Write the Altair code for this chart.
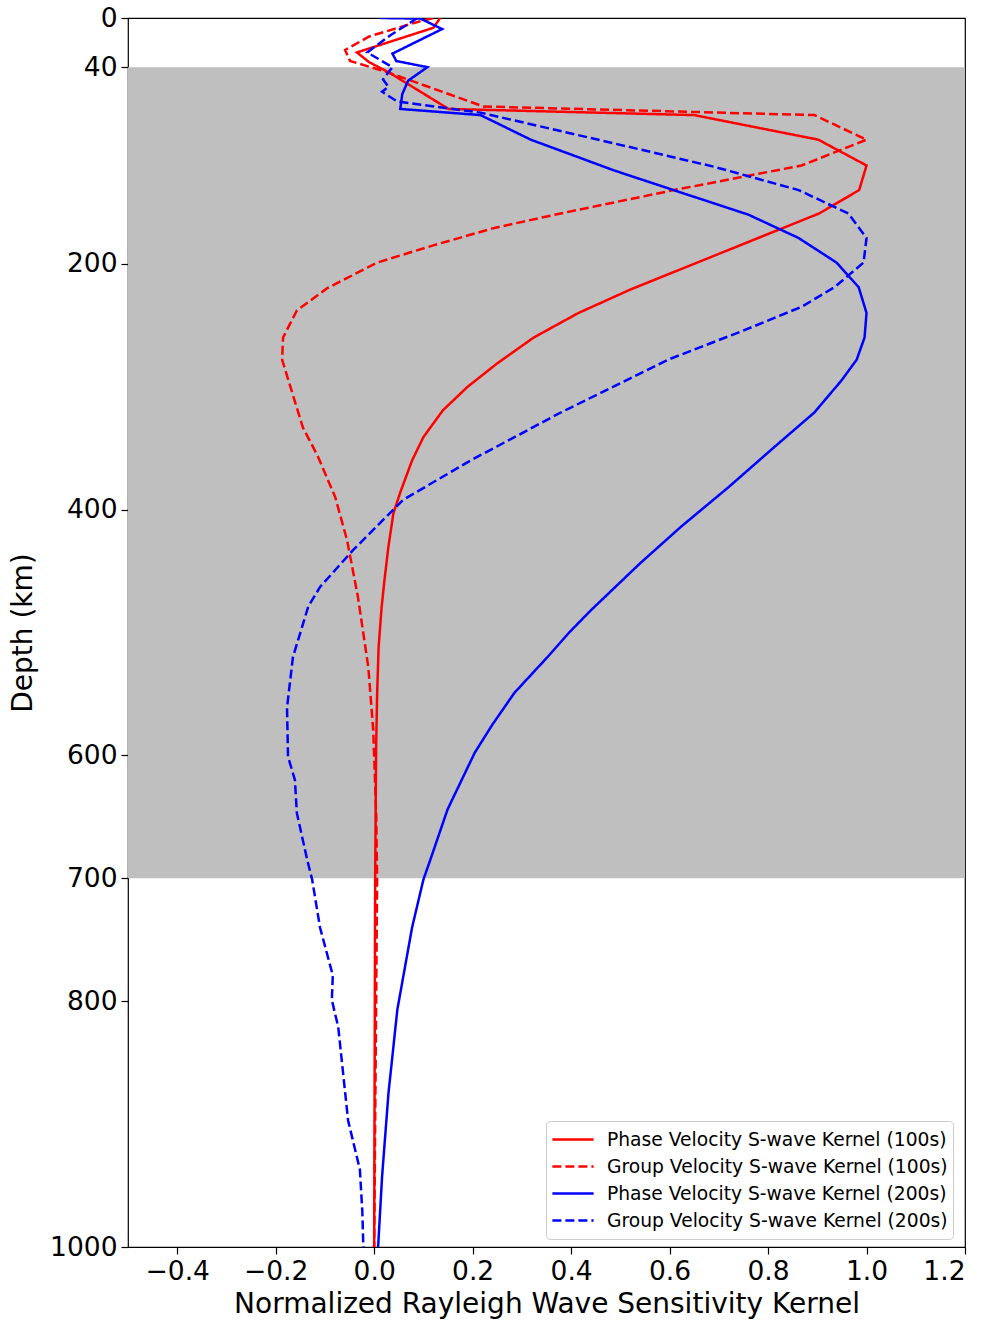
import altair as alt
import pandas as pd

# Depth samples (km) and normalized kernel values for each curve
phase100_depth = [0, 8, 28, 36, 45, 74, 79, 99, 120, 140, 159, 179, 200, 221, 240, 260, 281,
                  300, 319, 341, 360, 386, 403, 430, 457, 480, 512, 550, 593, 701, 1000]
phase100_value = [0.134, 0.12, -0.035, -0.01, 0.033, 0.151, 0.65, 0.902, 1.0, 0.985, 0.904,
                  0.78, 0.65, 0.52, 0.415, 0.324, 0.25, 0.19, 0.14, 0.10, 0.077, 0.053, 0.039,
                  0.029, 0.021, 0.015, 0.009, 0.006, 0.004, 0.002, 0.0]

group100_depth = [0, 3, 15, 26, 35, 44, 72, 79, 99, 120, 140, 159, 171, 185, 199, 220, 238,
                  260, 278, 299, 333, 357, 390, 425, 471, 528, 579, 647, 701, 1000]
group100_value = [0.12, 0.09, -0.01, -0.059, -0.049, 0.026, 0.222, 0.894, 1.0, 0.868, 0.609,
                  0.379, 0.242, 0.12, 0.006, -0.096, -0.157, -0.185, -0.187, -0.171, -0.145,
                  -0.114, -0.079, -0.055, -0.033, -0.012, -0.002, 0.004, 0.006, 0.0]

phase200_depth = [0, 0.5, 9, 29, 35, 40, 51, 62, 74, 79, 99, 124, 142, 160, 179, 199, 219,
                  240, 260, 278, 295, 321, 349, 382, 414, 443, 482, 500, 520, 549, 575, 598,
                  644, 685, 701, 740, 807, 875, 943, 1000]
phase200_value = [0.012, 0.094, 0.138, 0.037, 0.045, 0.108, 0.069, 0.057, 0.053, 0.216, 0.318,
                  0.487, 0.623, 0.76, 0.862, 0.939, 0.984, 1.0, 0.996, 0.98, 0.949, 0.894, 0.813,
                  0.719, 0.623, 0.542, 0.44, 0.396, 0.352, 0.285, 0.24, 0.204, 0.149, 0.114,
                  0.10, 0.077, 0.047, 0.029, 0.016, 0.008]

group200_depth = [0, 14, 28, 40, 50, 56, 60, 68, 77, 102, 121, 140, 159, 179, 199, 219, 235,
                  254, 278, 305, 321, 360, 392, 433, 463, 479, 520, 561, 601, 620, 647, 685,
                  701, 740, 779, 799, 821, 897, 937, 972, 1000]
group200_value = [0.088, 0.033, -0.014, 0.037, 0.018, 0.029, 0.016, 0.047, 0.216, 0.487, 0.69,
                  0.862, 0.963, 1.0, 0.994, 0.935, 0.868, 0.752, 0.597, 0.46, 0.379, 0.196,
                  0.059, -0.043, -0.11, -0.134, -0.165, -0.177, -0.175, -0.161, -0.157, -0.136,
                  -0.126, -0.11, -0.084, -0.086, -0.073, -0.053, -0.029, -0.024, -0.022]

series_names = [
    "Phase Velocity S-wave Kernel (100s)",
    "Group Velocity S-wave Kernel (100s)",
    "Phase Velocity S-wave Kernel (200s)",
    "Group Velocity S-wave Kernel (200s)",
]
series_colors = ["#ff0000", "#ff0000", "#0000ff", "#0000ff"]
series_dashes = [[1, 0], [9, 4], [1, 0], [9, 4]]

# Shaded depth band (km)
band_top = [40]
band_bottom = [700]

y_ticks = [0, 40, 200, 400, 600, 700, 800, 1000]
x_ticks = [-0.4, -0.2, 0.0, 0.2, 0.4, 0.6, 0.8, 1.0, 1.2]

rows = []
for name, depths, values in zip(
    series_names,
    [phase100_depth, group100_depth, phase200_depth, group200_depth],
    [phase100_value, group100_value, phase200_value, group200_value],
):
    for i, (d, v) in enumerate(zip(depths, values)):
        rows.append({"series": name, "idx": i, "depth": d, "value": v})
df = pd.DataFrame(rows)

band_df = pd.DataFrame({"top": band_top, "bottom": band_bottom})

W, H = 837, 1229
font = "DejaVu Sans"

x_scale = alt.Scale(domain=[-0.5, 1.2], nice=False, zero=False)
y_scale = alt.Scale(domain=[0, 1000], reverse=True, nice=False, zero=False)

band = alt.Chart(band_df).mark_rect(color="#bfbfbf").encode(
    y=alt.Y("top:Q", scale=y_scale),
    y2="bottom:Q",
    x=alt.value(0),
    x2=alt.value(W),
)

lines = alt.Chart(df).mark_line(strokeWidth=2.5, clip=True).encode(
    x=alt.X(
        "value:Q",
        scale=x_scale,
        axis=alt.Axis(
            values=x_ticks,
            title="Normalized Rayleigh Wave Sensitivity Kernel",
            labelExpr="replace(format(datum.value, '.1f'), '-', '\u2212')",
            titlePadding=6,
        ),
    ),
    y=alt.Y(
        "depth:Q",
        scale=y_scale,
        axis=alt.Axis(values=y_ticks, title="Depth (km)", format="d", titlePadding=12),
    ),
    color=alt.Color(
        "series:N",
        scale=alt.Scale(domain=series_names, range=series_colors),
        legend=alt.Legend(
            title=None,
            orient="none",
            legendX=418,
            legendY=1103,
            symbolType="stroke",
            symbolSize=1700,
            symbolStrokeWidth=2.5,
            labelFont=font,
            labelFontSize=18.7,
            labelColor="#000000",
            labelLimit=600,
            rowPadding=0,
            clipHeight=27,
            fillColor="#ffffff",
            strokeColor="#cccccc",
            cornerRadius=4,
            padding=5,
            labelOffset=12,
        ),
    ),
    strokeDash=alt.StrokeDash(
        "series:N",
        scale=alt.Scale(domain=series_names, range=series_dashes),
    ),
    order=alt.Order("idx:Q"),
)

chart = (
    alt.layer(band, lines)
    .properties(
        width=W,
        height=H,
        autosize=alt.AutoSizeParams(type="none"),
        padding={"left": 128, "top": 18, "right": 30, "bottom": 74},
        background="#ffffff",
    )
    .configure_view(stroke="#000000", strokeWidth=1.2)
    .configure_axis(
        labelFont=font,
        titleFont=font,
        labelFontSize=26.5,
        titleFontSize=28,
        titleFontWeight="normal",
        labelColor="#000000",
        titleColor="#000000",
        tickColor="#000000",
        tickSize=7,
        tickWidth=1.2,
        domain=False,
        grid=False,
        labelPadding=4,
    )
)

chart.save("out.html", embed_options={"renderer": "svg", "actions": False})
